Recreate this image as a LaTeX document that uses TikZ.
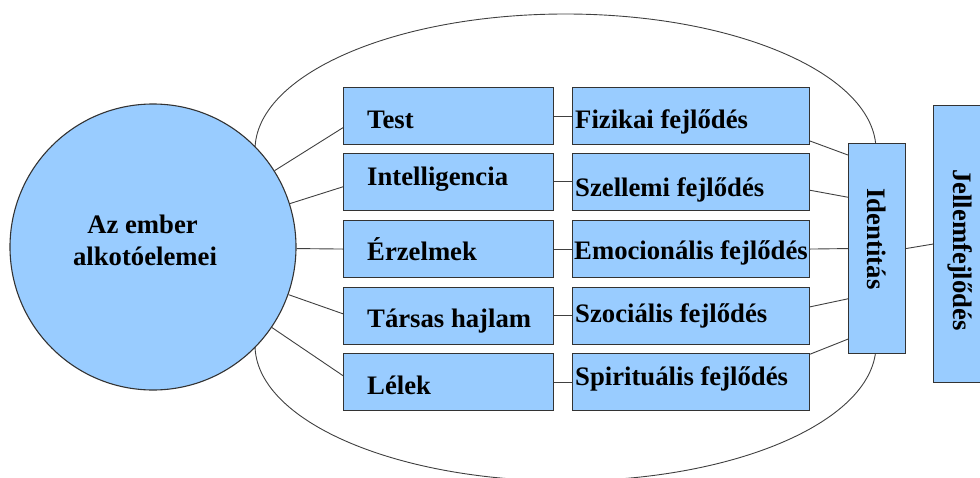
\documentclass[tikz,border=0pt]{standalone}
\usepackage{fontspec}
\setmainfont{Liberation Serif}
\usetikzlibrary{calc}
\definecolor{boxblue}{RGB}{153,204,255}
\definecolor{edgecol}{RGB}{51,51,51}
\definecolor{wirecol}{RGB}{64,64,64}
\begin{document}
\begin{tikzpicture}[x=1pt,y=-1pt,
  box/.style={draw=edgecol, fill=boxblue, line width=1.1pt, inner sep=0pt, anchor=north west},
  lbox/.style={box, minimum width=210pt, minimum height=57pt},
  rbox/.style={box, minimum width=237pt, minimum height=57pt},
  wire/.style={draw=wirecol, line width=0.9pt},
  lbl/.style={font=\fontsize{26.7}{32}\selectfont\bfseries, inner sep=0pt}]
\useasboundingbox (0,0) rectangle (980,477);
% outer oval
\draw[wire] (255,150) arc[start angle=180,end angle=0,x radius=310.5pt,y radius=136pt]
  -- (876,345) arc[start angle=0,end angle=-180,x radius=310.5pt,y radius=136pt] -- cycle;
% circle
\node[circle, draw=edgecol, fill=boxblue, line width=1.1pt, minimum size=286pt, inner sep=0pt] (c) at (153,247) {};
\node[lbl, anchor=base] (c1) at (142.5,233) {Az ember};
\node[lbl, anchor=base] (c2) at (145,265) {alkotóelemei};
% left boxes
\node[lbox] (l1) at (343,87) {};
\node[lbox] (l2) at (343,152.5) {};
\node[lbox] (l3) at (343,220) {};
\node[lbox] (l4) at (343,286.5) {};
\node[lbox] (l5) at (343,353) {};
\node[lbl, anchor=base west] (tl1) at (367,128) {Test};
\node[lbl, anchor=base west] (tl2) at (367,185) {Intelligencia};
\node[lbl, anchor=base west] (tl3) at (367,260) {Érzelmek};
\node[lbl, anchor=base west] (tl4) at (367,327) {Társas hajlam};
\node[lbl, anchor=base west] (tl5) at (367,394) {Lélek};
% right boxes
\node[rbox] (r1) at (572,87) {};
\node[rbox] (r2) at (572,152.5) {};
\node[rbox] (r3) at (572,220) {};
\node[rbox] (r4) at (572,286.5) {};
\node[rbox] (r5) at (572,353) {};
\node[lbl, anchor=base west] (tr1) at (575,128) {Fizikai fejlődés};
\node[lbl, anchor=base west] (tr2) at (575,196) {Szellemi fejlődés};
\node[lbl, anchor=base west] (tr3) at (574,259) {Emocionális fejlődés};
\node[lbl, anchor=base west] (tr4) at (575,322) {Szociális fejlődés};
\node[lbl, anchor=base west] (tr5) at (575,385) {Spirituális fejlődés};
% identity and character
\node[box, minimum width=57pt, minimum height=210pt] (id) at (848,143) {};
\node[lbl, anchor=base, rotate=-90] (tid) at (867,239) {Identitás};
\node[box, minimum width=58pt, minimum height=277pt] (jf) at (933,105) {};
\node[lbl, anchor=base, rotate=-90] (tjf) at (953,250) {Jellemfejlődés};
% circle to left boxes
\draw[wire] (c) -- ($(l1.north west)!0.70!(l1.south west)$);
\draw[wire] (c) -- ($(l2.north west)!0.59!(l2.south west)$);
\draw[wire] (c) -- (l3.west);
\draw[wire] (c) -- ($(l4.north west)!0.47!(l4.south west)$);
\draw[wire] (c) -- ($(l5.north west)!0.39!(l5.south west)$);
% left to right boxes
\draw[wire] (l1.east) -- (r1.west);
\draw[wire] (l2.east) -- (r2.west);
\draw[wire] (l3.east) -- (r3.west);
\draw[wire] (l4.east) -- (r4.west);
\draw[wire] (l5.east) -- (r5.west);
% right boxes to identity
\draw[wire] ($(r1.north east)!0.93!(r1.south east)$) -- ($(id.north west)!0.057!(id.south west)$);
\draw[wire] ($(r2.north east)!0.65!(r2.south east)$) -- ($(id.north west)!0.257!(id.south west)$);
\draw[wire] (r3.east) -- (id.west);
\draw[wire] ($(r4.north east)!0.35!(r4.south east)$) -- ($(id.north west)!0.738!(id.south west)$);
\draw[wire] ($(r5.north east)!0.02!(r5.south east)$) -- ($(id.north west)!0.929!(id.south west)$);
% identity to character
\draw[wire] (id.east) -- (jf.west);
\end{tikzpicture}
\end{document}
